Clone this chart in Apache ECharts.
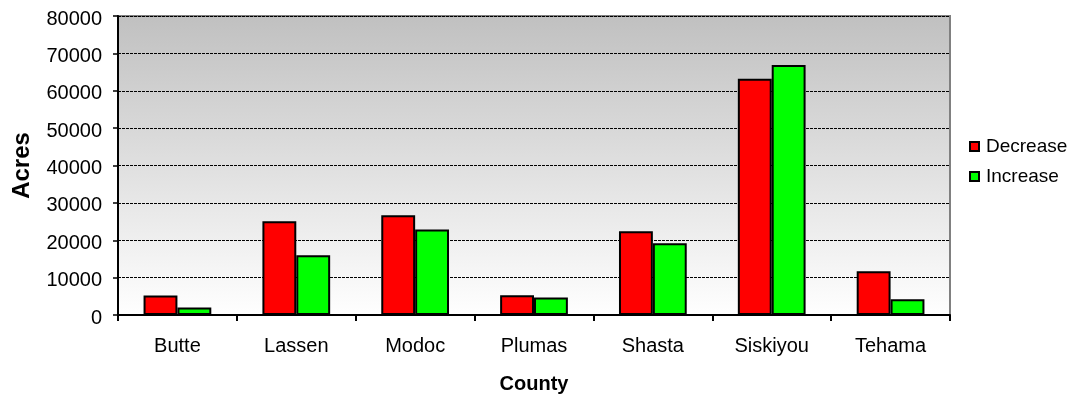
<!DOCTYPE html>
<html>
<head>
<meta charset="utf-8">
<script src="https://cdn.jsdelivr.net/npm/echarts@6/dist/echarts.min.js"></script>
<style>
html,body{margin:0;padding:0;background:#fff;}
#chart{width:1084px;height:394px;}
</style>
</head>
<body>
<div id="chart"></div>
<script>
// County acreage changes
const counties = ['Butte', 'Lassen', 'Modoc', 'Plumas', 'Shasta', 'Siskiyou', 'Tehama'];
const decrease = [5200, 25100, 26700, 5300, 22400, 63200, 11700];
const increase = [2000, 16000, 22900, 4700, 19200, 66900, 4200];
const yTicks = [0, 10000, 20000, 30000, 40000, 50000, 60000, 70000, 80000];

const font = 'Liberation Sans, Arial, sans-serif';
const chart = echarts.init(document.getElementById('chart'));

chart.setOption({
  animation: false,
  grid: {
    left: 118, top: 16, right: 134, bottom: 79,
    outerBoundsMode: 'none',
    containLabel: false,
    show: true,
    borderColor: '#808080', borderWidth: 2,
    backgroundColor: new echarts.graphic.LinearGradient(0, 0, 0, 1, [
      { offset: 0, color: '#c0c0c0' },
      { offset: 1, color: '#ffffff' }
    ])
  },
  legend: {
    orient: 'vertical',
    left: 964, top: 132,
    itemWidth: 9, itemHeight: 9, itemGap: 11,
    icon: 'rect',
    textStyle: { fontFamily: font, fontSize: 19, color: '#000', padding: [0, 0, 0, 2] },
    data: ['Decrease', 'Increase']
  },
  xAxis: {
    type: 'category',
    data: counties,
    name: 'County',
    nameLocation: 'middle',
    nameGap: 59,
    nameTextStyle: { fontFamily: font, fontSize: 20, fontWeight: 'bold', color: '#000' },
    axisLine: { lineStyle: { color: '#000', width: 2 } },
    axisTick: { show: true, length: 6, lineStyle: { color: '#000', width: 2 } },
    axisLabel: { fontFamily: font, fontSize: 20, color: '#000', margin: 21 }
  },
  yAxis: {
    type: 'value',
    min: yTicks[0], max: yTicks[yTicks.length - 1], interval: yTicks[1] - yTicks[0],
    name: 'Acres',
    nameLocation: 'middle',
    nameGap: 84,
    nameTextStyle: { fontFamily: font, fontSize: 24, fontWeight: 'bold', color: '#000' },
    axisLine: { show: true, lineStyle: { color: '#000', width: 2 } },
    axisTick: { show: true, length: 5, lineStyle: { color: '#000', width: 1.5 } },
    axisLabel: {
      fontFamily: font, fontSize: 20, color: '#000', margin: 16,
      formatter: v => '{v|' + v + '}',
      rich: { v: { fontFamily: font, fontSize: 20, color: '#000', padding: [6, 0, 0, 0] } }
    },
    splitLine: { show: true, lineStyle: { color: '#000', type: [3, 1], width: 1 } }
  },
  series: [
    {
      name: 'Decrease', type: 'bar', data: decrease,
      barGap: '0%', barCategoryGap: '43%',
      itemStyle: { color: '#ff0000', borderColor: '#000', borderWidth: 2 }
    },
    {
      name: 'Increase', type: 'bar', data: increase,
      itemStyle: { color: '#00ff00', borderColor: '#000', borderWidth: 2 }
    }
  ]
});
</script>
</body>
</html>
